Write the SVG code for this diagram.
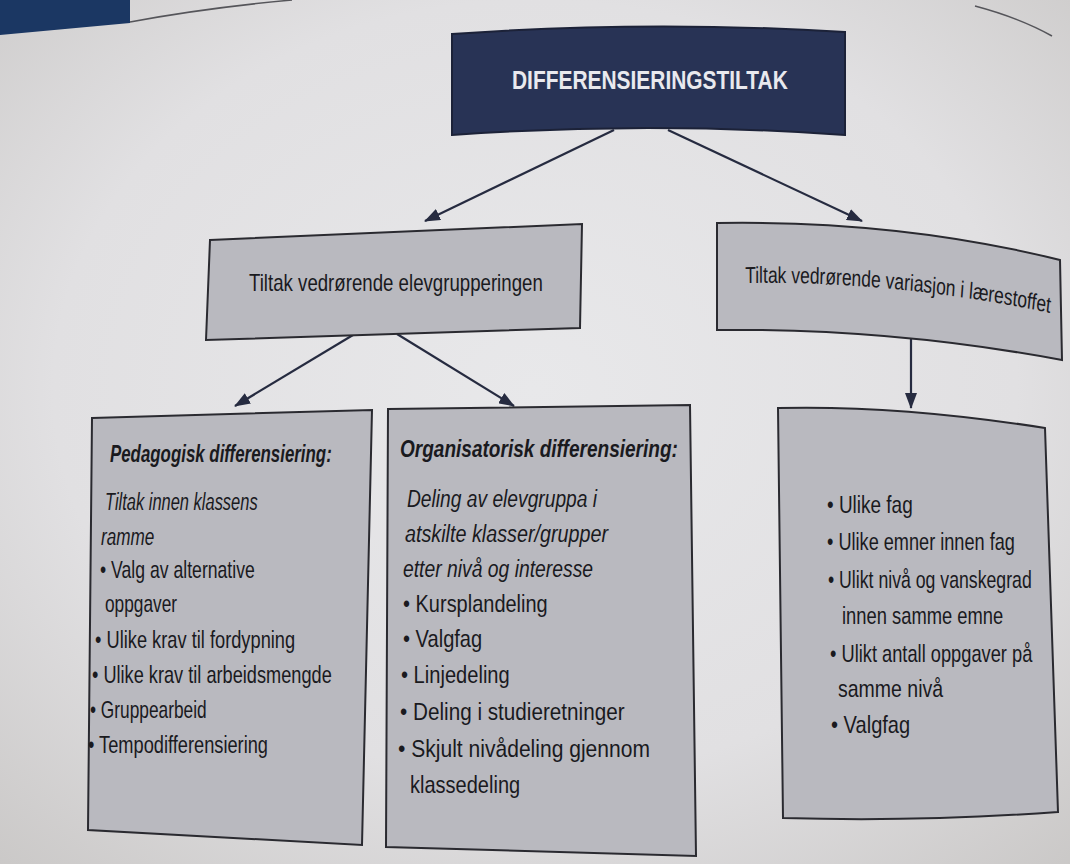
<svg xmlns="http://www.w3.org/2000/svg" width="1070" height="864" viewBox="0 0 1070 864">
  <defs>
    <radialGradient id="page" cx="0.5" cy="0.45" r="0.75">
      <stop offset="0" stop-color="#e8e8ea"/>
      <stop offset="0.6" stop-color="#e1e0e2"/>
      <stop offset="1" stop-color="#cac8c7"/>
    </radialGradient>
    <marker id="head" viewBox="0 0 16 12" refX="15" refY="6" markerWidth="16" markerHeight="12" markerUnits="userSpaceOnUse" orient="auto">
      <path d="M0,0 L16,6 L0,12 Z" fill="#262b40"/>
    </marker>
    <style>
      .box { fill: #b9b9bf; stroke: #2a2a30; stroke-width: 2; }
      .title { fill: #283355; stroke: #1c2238; stroke-width: 2; }
      .t { font-family: "Liberation Sans", Arial, sans-serif; font-size: 24px; fill: #1a1a1e; }
      .m { font-family: "Liberation Sans", Arial, sans-serif; font-size: 23px; fill: #1a1a1e; }
      .it { font-style: italic; }
      .bi { font-style: italic; font-weight: bold; }
      .head { font-family: "Liberation Sans", Arial, sans-serif; font-weight: bold; font-size: 26px; fill: #e9e9ee; }
      .edge { fill: none; stroke: #262b40; stroke-width: 2.2; marker-end: url(#head); }
      .page-line { fill: none; stroke: #55555a; stroke-width: 1.5; }
    </style>
  </defs>

  <!-- page background -->
  <rect x="0" y="0" width="1070" height="864" fill="url(#page)"/>
  <polygon points="0,0 130,0 130,23 0,35" fill="#1b3763"/>
  <path class="page-line" d="M130,22 Q205,8 292,0"/>
  <path class="page-line" d="M975,6 Q1020,18 1052,36"/>

  <!-- connectors -->
  <g id="connectors">
    <line class="edge" x1="614" y1="130" x2="425" y2="221"/>
    <line class="edge" x1="668" y1="130" x2="862" y2="221"/>
    <line class="edge" x1="353" y1="335" x2="235" y2="406"/>
    <line class="edge" x1="397" y1="334" x2="514" y2="406"/>
    <line class="edge" x1="911" y1="337" x2="911" y2="408"/>
  </g>

  <!-- root; all labels use a condensed (0.72) horizontal scale -->
  <g id="node-differensieringstiltak">
    <path class="title" d="M452,34 Q648,20 845,32 L845,135 Q648,121 452,135 Z"/>
    <text class="head" transform="translate(512,89) scale(0.72,1)" textLength="383" lengthAdjust="spacingAndGlyphs">DIFFERENSIERINGSTILTAK</text>
  </g>

  <!-- level 2 -->
  <g id="node-elevgrupperingen">
    <path class="box" d="M210,240 L582,224 L580,328 L206,340 Z"/>
    <text class="m" transform="translate(249,291) scale(0.72,1)" textLength="408" lengthAdjust="spacingAndGlyphs">Tiltak vedrørende elevgrupperingen</text>
  </g>

  <g id="node-variasjon">
    <path class="box" d="M717,223 Q900,220 1060,260 L1062,360 Q890,328 717,330 Z"/>
    <g transform="scale(0.72,1)">
      <path id="curve-variasjon" d="M1035,283 Q1250,281 1458,313" fill="none"/>
      <text class="m"><textPath href="#curve-variasjon" textLength="425" lengthAdjust="spacingAndGlyphs">Tiltak vedrørende variasjon i lærestoffet</textPath></text>
    </g>
  </g>

  <!-- level 3 -->
  <g id="node-pedagogisk">
    <path class="box" d="M92,418 L372,410 L362,845 L88,830 Z"/>
    <text class="t bi" transform="translate(110,462) scale(0.72,1)" textLength="308" lengthAdjust="spacingAndGlyphs">Pedagogisk differensiering:</text>
    <text class="t it" transform="translate(105,510) scale(0.72,1)" textLength="212" lengthAdjust="spacingAndGlyphs">Tiltak innen klassens</text>
    <text class="t it" transform="translate(101,545) scale(0.72,1)" textLength="74" lengthAdjust="spacingAndGlyphs">ramme</text>
    <text class="t" transform="translate(100,578) scale(0.72,1)" textLength="215" lengthAdjust="spacingAndGlyphs">• Valg av alternative</text>
    <text class="t" transform="translate(105,612) scale(0.72,1)" textLength="100" lengthAdjust="spacingAndGlyphs">oppgaver</text>
    <text class="t" transform="translate(95,648) scale(0.72,1)" textLength="278" lengthAdjust="spacingAndGlyphs">• Ulike krav til fordypning</text>
    <text class="t" transform="translate(92,683) scale(0.72,1)" textLength="333" lengthAdjust="spacingAndGlyphs">• Ulike krav til arbeidsmengde</text>
    <text class="t" transform="translate(90,718) scale(0.72,1)" textLength="162" lengthAdjust="spacingAndGlyphs">• Gruppearbeid</text>
    <text class="t" transform="translate(88,753) scale(0.72,1)" textLength="250" lengthAdjust="spacingAndGlyphs">• Tempodifferensiering</text>
  </g>

  <g id="node-organisatorisk">
    <path class="box" d="M388,409 L690,405 L696,856 L386,847 Z"/>
    <text class="t bi" transform="translate(400,457) scale(0.72,1)" textLength="386" lengthAdjust="spacingAndGlyphs">Organisatorisk differensiering:</text>
    <text class="t it" transform="translate(407,507) scale(0.72,1)" textLength="264" lengthAdjust="spacingAndGlyphs">Deling av elevgruppa i</text>
    <text class="t it" transform="translate(405,542) scale(0.72,1)" textLength="282" lengthAdjust="spacingAndGlyphs">atskilte klasser/grupper</text>
    <text class="t it" transform="translate(403,577) scale(0.72,1)" textLength="264" lengthAdjust="spacingAndGlyphs">etter nivå og interesse</text>
    <text class="t" transform="translate(403,612) scale(0.72,1)" textLength="201" lengthAdjust="spacingAndGlyphs">• Kursplandeling</text>
    <text class="t" transform="translate(403,647) scale(0.72,1)" textLength="110" lengthAdjust="spacingAndGlyphs">• Valgfag</text>
    <text class="t" transform="translate(401,683) scale(0.72,1)" textLength="151" lengthAdjust="spacingAndGlyphs">• Linjedeling</text>
    <text class="t" transform="translate(400,720) scale(0.72,1)" textLength="312" lengthAdjust="spacingAndGlyphs">• Deling i studieretninger</text>
    <text class="t" transform="translate(398,757) scale(0.72,1)" textLength="350" lengthAdjust="spacingAndGlyphs">• Skjult nivådeling gjennom</text>
    <text class="t" transform="translate(410,793) scale(0.72,1)" textLength="153" lengthAdjust="spacingAndGlyphs">klassedeling</text>
  </g>

  <g id="node-lærestoff">
    <path class="box" d="M778,408 Q900,405 1045,428 L1058,812 Q920,822 783,818 Z"/>
    <text class="t" transform="translate(827,513) scale(0.72,1)" textLength="119" lengthAdjust="spacingAndGlyphs">• Ulike fag</text>
    <text class="t" transform="translate(827,550) scale(0.72,1)" textLength="261" lengthAdjust="spacingAndGlyphs">• Ulike emner innen fag</text>
    <text class="t" transform="translate(828,588) scale(0.72,1)" textLength="283" lengthAdjust="spacingAndGlyphs">• Ulikt nivå og vanskegrad</text>
    <text class="t" transform="translate(842,624) scale(0.72,1)" textLength="224" lengthAdjust="spacingAndGlyphs">innen samme emne</text>
    <text class="t" transform="translate(830,662) scale(0.72,1)" textLength="281" lengthAdjust="spacingAndGlyphs">• Ulikt antall oppgaver på</text>
    <text class="t" transform="translate(838,697) scale(0.72,1)" textLength="146" lengthAdjust="spacingAndGlyphs">samme nivå</text>
    <text class="t" transform="translate(831,733) scale(0.72,1)" textLength="110" lengthAdjust="spacingAndGlyphs">• Valgfag</text>
  </g>
</svg>
